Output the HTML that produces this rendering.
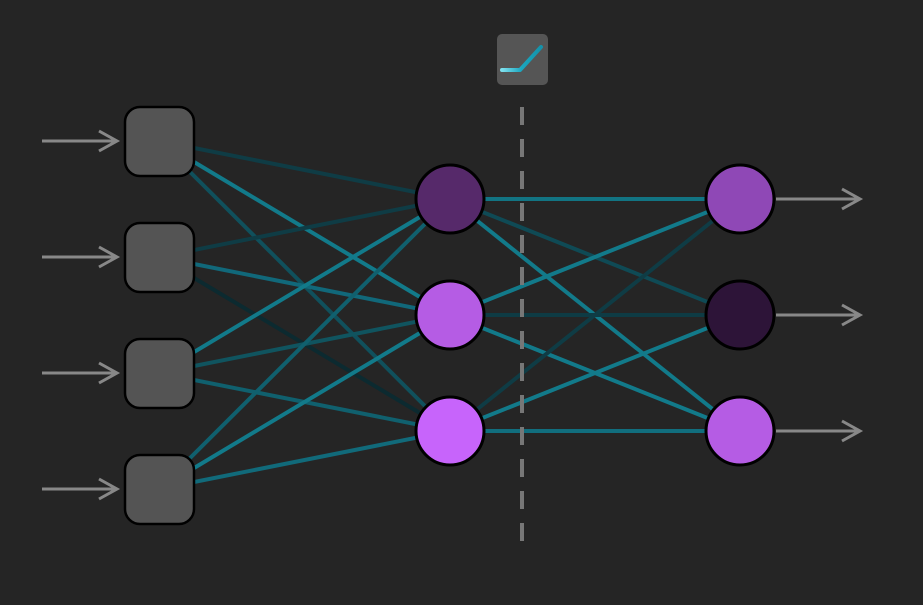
<!DOCTYPE html>
<html><head><style>html,body{margin:0;padding:0;background:#252525;}</style></head>
<body>
<svg width="923" height="600" viewBox="0 0 923 600" xmlns="http://www.w3.org/2000/svg">
<rect width="923" height="600" fill="#252525"/>
<defs><linearGradient id="g" x1="0" x2="1"><stop offset="0" stop-color="#7fe0ee"/><stop offset="0.5" stop-color="#1aa6bf"/><stop offset="1" stop-color="#1492aa"/></linearGradient></defs>
<g stroke-width="4" fill="none">
<line x1="159" y1="141" x2="450" y2="199" stroke="#0f3c45"/>
<line x1="159" y1="141" x2="450" y2="315" stroke="#127a8a"/>
<line x1="159" y1="141" x2="450" y2="431" stroke="#10505c"/>
<line x1="159" y1="257" x2="450" y2="199" stroke="#0f3c45"/>
<line x1="159" y1="257" x2="450" y2="315" stroke="#11687a"/>
<line x1="159" y1="257" x2="450" y2="431" stroke="#0c2a30"/>
<line x1="159" y1="373" x2="450" y2="199" stroke="#127a8a"/>
<line x1="159" y1="373" x2="450" y2="315" stroke="#10545f"/>
<line x1="159" y1="373" x2="450" y2="431" stroke="#10606e"/>
<line x1="159" y1="489" x2="450" y2="199" stroke="#10606e"/>
<line x1="159" y1="489" x2="450" y2="315" stroke="#127a8a"/>
<line x1="159" y1="489" x2="450" y2="431" stroke="#116a7a"/>
<line x1="450" y1="199" x2="740" y2="199" stroke="#127483"/>
<line x1="450" y1="199" x2="740" y2="315" stroke="#0f4a55"/>
<line x1="450" y1="199" x2="740" y2="431" stroke="#127a8a"/>
<line x1="450" y1="315" x2="740" y2="199" stroke="#127a8a"/>
<line x1="450" y1="315" x2="740" y2="315" stroke="#0e3b44"/>
<line x1="450" y1="315" x2="740" y2="431" stroke="#127a8a"/>
<line x1="450" y1="431" x2="740" y2="199" stroke="#0f3c45"/>
<line x1="450" y1="431" x2="740" y2="315" stroke="#127a8a"/>
<line x1="450" y1="431" x2="740" y2="431" stroke="#116e7e"/>
</g>
<line x1="522" y1="107" x2="522" y2="548" stroke="#777" stroke-width="4" stroke-dasharray="18,14"/>
<rect x="497" y="34" width="51" height="51" rx="5" fill="#555"/>
<polyline points="502,70 520,70 541,47" fill="none" stroke="url(#g)" stroke-width="4" stroke-linecap="round" stroke-linejoin="round"/>
<g stroke="#888" stroke-width="3" fill="none">
<path d="M42 141H117M99 131L117 141L99 151"/>
<path d="M42 257H117M99 247L117 257L99 267"/>
<path d="M42 373H117M99 363L117 373L99 383"/>
<path d="M42 489H117M99 479L117 489L99 499"/>
<path d="M776 199H860M842 189L860 199L842 209"/>
<path d="M776 315H860M842 305L860 315L842 325"/>
<path d="M776 431H860M842 421L860 431L842 441"/>
</g>
<g fill="#545454" stroke="#000" stroke-width="2.5">
<rect x="125" y="107" width="69" height="69" rx="15"/>
<rect x="125" y="223" width="69" height="69" rx="15"/>
<rect x="125" y="339" width="69" height="69" rx="15"/>
<rect x="125" y="455" width="69" height="69" rx="15"/>
</g>
<g stroke="#000" stroke-width="3">
<circle cx="450" cy="199" r="34" fill="#56296a"/>
<circle cx="450" cy="315" r="34" fill="#b55ce4"/>
<circle cx="450" cy="431" r="34" fill="#c764fb"/>
<circle cx="740" cy="199" r="34" fill="#8f48b6"/>
<circle cx="740" cy="315" r="34" fill="#2d1438"/>
<circle cx="740" cy="431" r="34" fill="#b55ce4"/>
</g>
</svg>
</body></html>
